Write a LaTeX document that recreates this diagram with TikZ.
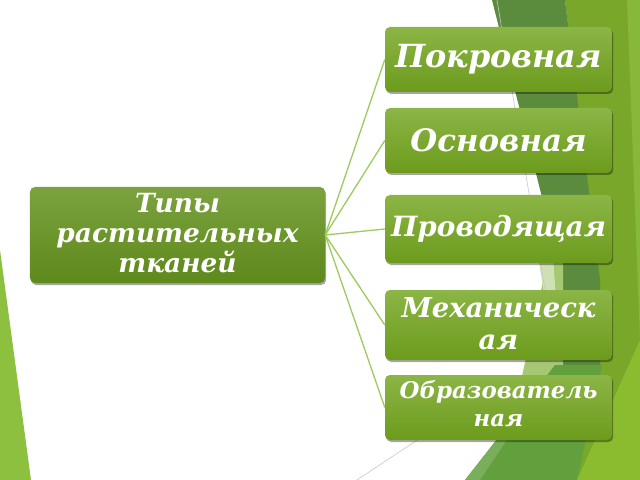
\documentclass[tikz,border=0pt]{standalone}
\usepackage{fontspec}
\setmainfont{DejaVu Serif}
\usetikzlibrary{calc}
\definecolor{boxtop}{HTML}{8BB546}
\definecolor{boxbot}{HTML}{6C9B1C}
\definecolor{maintop}{HTML}{7BA23F}
\definecolor{mainbot}{HTML}{5E891B}
\definecolor{connc}{HTML}{9CCB5E}
\definecolor{darkg}{HTML}{5B8C3E}
\definecolor{oliveg}{HTML}{78A72A}
\definecolor{brightg}{HTML}{88B83A}
\definecolor{medg}{HTML}{62A03E}
\definecolor{yellowg}{HTML}{8BBB2F}
\definecolor{paleg}{HTML}{CFE0B5}
\definecolor{lightg}{HTML}{A6C872}
\definecolor{leftg}{HTML}{8DC03F}
\tikzset{
  gbox/.style={rounded corners=5bp, inner sep=0pt, top color=boxtop, bottom color=boxbot, draw=none},
  mbox/.style={rounded corners=5bp, inner sep=0pt, top color=maintop, bottom color=mainbot, draw=none},
  bshadow/.style={fill=black, opacity=0.35, rounded corners=5bp, inner sep=0pt, draw=none},
  txt/.style={text=white, align=center, inner sep=0pt},
  conn/.style={draw=connc, line width=1.3bp},
  thin/.style={draw=black!22, line width=0.6bp}
}
% #1 name, #2 x, #3 y, #4 w, #5 h, #6 box style, #7 font size, #8 skip, #9 text-y
\newcommand\tkbox[9]{%
  \node[bshadow, minimum width=#4bp, minimum height=#5bp] (#1-sh) at (#2+1.2,#3+2) {};
  \node[#6, minimum width=#4bp, minimum height=#5bp] (#1) at (#2,#3) {};
  \node[txt, font={\bfseries\itshape\fontsize{#7}{#8}\selectfont}] (#1-t) at (#2,#9)
}
\begin{document}
\begin{tikzpicture}[x=1bp,y=-1bp]
\useasboundingbox (0,0) rectangle (640,480);
\fill[white] (0,0) rectangle (640,480);
% background facets
\fill[leftg] (0,250) -- (31,480) -- (0,480) -- cycle;
\fill[oliveg] (565,0) -- (640,0) -- (640,480) -- (577,480) -- (600,300) -- cycle;
\fill[brightg] (627,0) -- (640,0) -- (640,340) -- cycle;
\fill[darkg] (492,0) -- (565,0) -- (600,280) -- (600,365) -- (563,365) -- (563,280) -- cycle;
\fill[lightg] (550,250) -- (563,250) -- (563,385) -- (520,385) -- cycle;
\fill[paleg] (538,255) -- (553,255) -- (556,300) -- (545,300) -- cycle;
\fill[medg] (465,480) -- (555,365) -- (602,365) -- (577,480) -- cycle;
\fill[medg!85!white] (465,480) -- (530,398) -- (535,398) -- (480,480) -- cycle;
\fill[yellowg] (577,480) -- (640,340) -- (640,480) -- cycle;
\draw[thin] (497,0) -- (550,320);
\draw[thin] (357,480) -- (470,405);
% boxes
\tkbox{main}{177.5}{235}{295}{96}{mbox}{26.5}{30}{233}{Типы\\растительных\\тканей};
\tkbox{b1}{498.5}{59.5}{227}{65}{gbox}{32}{36}{59.5}{Покровная};
\tkbox{b2}{498.5}{140.5}{227}{65}{gbox}{31}{36}{140.5}{Основная};
\tkbox{b3}{498.5}{229}{227}{68}{gbox}{28}{32}{229}{Проводящая};
\tkbox{b4}{498.5}{325}{227}{70}{gbox}{27.5}{32}{324}{Механическ\\ая};
\tkbox{b5}{498.5}{407.5}{227}{65}{gbox}{23}{28}{404}{Образователь\\ная};
% connectors
\draw[conn] (main.east) -- (b1.west);
\draw[conn] (main.east) -- (b2.west);
\draw[conn] (main.east) -- (b3.west);
\draw[conn] (main.east) -- (b4.west);
\draw[conn] (main.east) -- (b5.west);
\end{tikzpicture}
\end{document}
